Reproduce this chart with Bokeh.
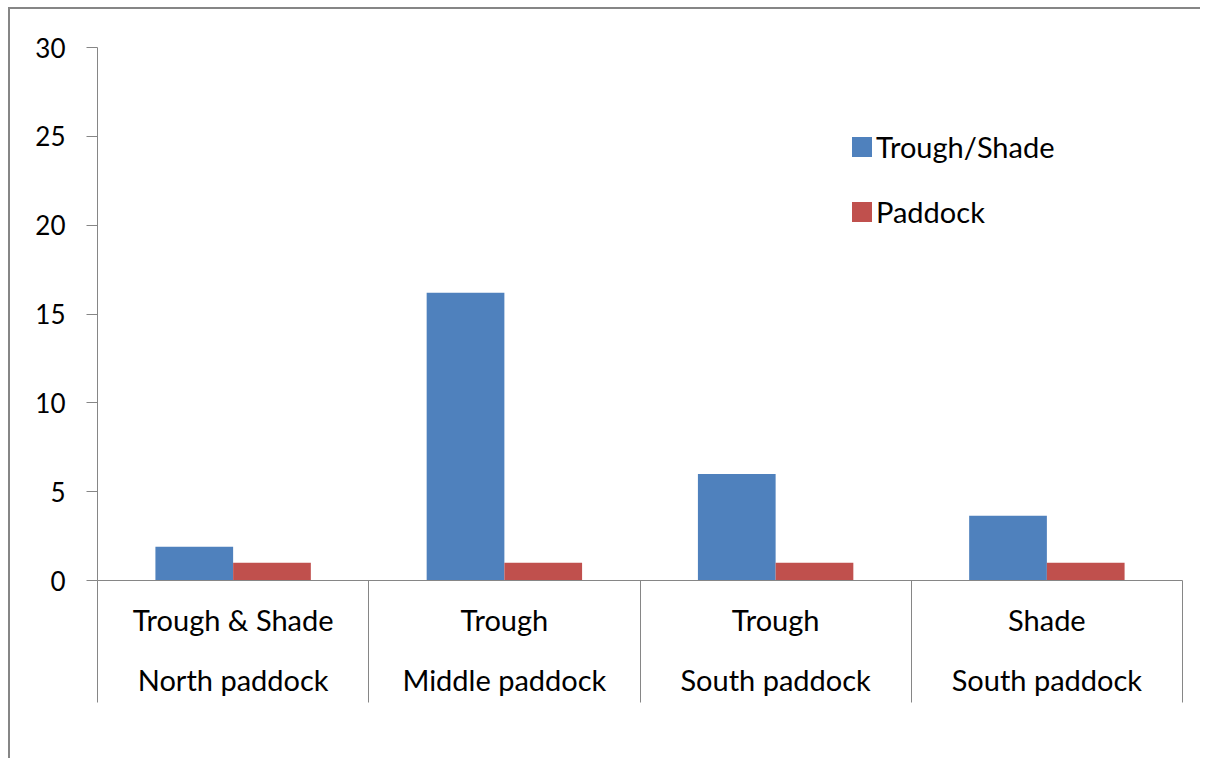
from bokeh.plotting import figure
from bokeh.models import LinearAxis, FixedTicker, Legend, LegendItem, Range1d
from bokeh.embed import file_html
from bokeh.resources import INLINE

# ---- data ----
categories_top = ["Trough & Shade", "Trough", "Trough", "Shade"]
categories_bottom = ["North paddock", "Middle paddock", "South paddock", "South paddock"]
trough_shade = [1.9, 16.2, 6.0, 3.65]
paddock = [1.0, 1.0, 1.0, 1.0]
y_ticks = [0, 5, 10, 15, 20, 25, 30]
series_names = ["Trough/Shade", "Paddock"]

FONT = "Lato"
GRAY = "#868686"
BLUE = "#4F81BD"
RED = "#C0504D"
FS_TICK = "26px"
FS_TEXT = "29px"

n = len(categories_top)
centers = [i + 0.5 for i in range(n)]
bar_w = 0.2865

p = figure(width=1192, height=751, x_range=Range1d(0, n), y_range=Range1d(0, 30),
           output_backend="svg", toolbar_location=None,
           x_axis_location=None, y_axis_location=None,
           min_border_left=87, min_border_right=20, min_border_top=38, min_border_bottom=180)
p.margin = (7, 0, 0, 8)
p.styles = {"border-left": f"2px solid {GRAY}", "border-top": f"2px solid {GRAY}"}
p.outline_line_color = None
p.xgrid.visible = False
p.ygrid.visible = False

# y axis
yax = LinearAxis(ticker=FixedTicker(ticks=y_ticks, minor_ticks=[]),
                 axis_line_color=GRAY, major_tick_line_color=GRAY,
                 major_tick_out=11, major_tick_in=0,
                 major_label_standoff=21,
                 major_label_text_font=FONT, major_label_text_font_size=FS_TICK,
                 major_label_text_color="black")
p.add_layout(yax, "left")

# x axis: first row labels + category dividers (minor ticks)
xax1 = LinearAxis(ticker=FixedTicker(ticks=centers, minor_ticks=list(range(n + 1))),
                  axis_line_color=GRAY, major_tick_line_color=None,
                  major_tick_out=0, major_tick_in=0,
                  minor_tick_line_color=GRAY, minor_tick_out=122, minor_tick_in=0,
                  major_label_overrides={c: t for c, t in zip(centers, categories_top)},
                  major_label_standoff=-101,
                  major_label_text_font=FONT, major_label_text_font_size=FS_TEXT,
                  major_label_text_color="black")
p.add_layout(xax1, "below")

xax2 = LinearAxis(ticker=FixedTicker(ticks=centers, minor_ticks=[]),
                  axis_line_color=None, major_tick_line_color=None,
                  major_tick_out=0, major_tick_in=0,
                  major_label_overrides={c: t for c, t in zip(centers, categories_bottom)},
                  major_label_standoff=22,
                  major_label_text_font=FONT, major_label_text_font_size=FS_TEXT,
                  major_label_text_color="black")
p.add_layout(xax2, "below")

r1 = p.vbar(x=[c - bar_w / 2 for c in centers], top=trough_shade, width=bar_w,
            fill_color=BLUE, line_color=None)
r2 = p.vbar(x=[c + bar_w / 2 for c in centers], top=paddock, width=bar_w,
            fill_color=RED, line_color=None)

legend = Legend(items=[LegendItem(label=series_names[0], renderers=[r1]),
                       LegendItem(label=series_names[1], renderers=[r2])],
                location=(752, 351), glyph_width=25, glyph_height=25,
                label_standoff=2, spacing=29, padding=0, margin=0,
                label_height=36, border_line_color=None, background_fill_alpha=0,
                label_text_font=FONT, label_text_font_size=FS_TEXT,
                label_text_color="black")
p.add_layout(legend, "center")

open("out.html", "w").write(file_html(p, INLINE))
